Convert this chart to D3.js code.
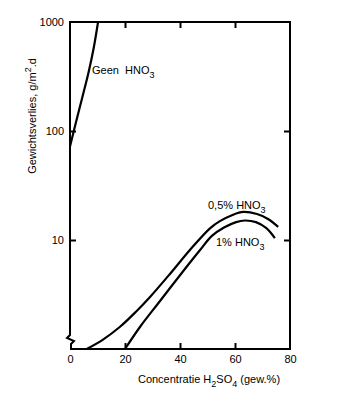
<!DOCTYPE html>
<html><head><meta charset="utf-8">
<script src="https://cdn.jsdelivr.net/npm/d3@7"></script>
<style>body{margin:0;background:#fff}svg{display:block}text{font-family:"Liberation Sans",Arial,sans-serif;fill:#000;white-space:pre}</style>
</head><body>
<script>
// Data (concentration H2SO4 in gew.%, weight loss g/m2.d)
const xTicks = [0, 20, 40, 60, 80];
const yTicks = [10, 100, 1000];
const geenConc = [0, 1.9, 4.4, 6.8, 8.6, 10.2];
const geenVal  = [72, 113, 200, 350, 574, 1000];
const halfConc = [6.1, 12, 18.2, 24, 29.1, 36.4, 43.6, 50.9, 54.5, 58.9, 63, 68, 72, 75.7];
const halfVal  = [1, 1.22, 1.6, 2.2, 3.0, 4.9, 8.1, 12.8, 14.9, 16.9, 18.1, 17.3, 15.6, 13.2];
const oneConc  = [20, 25.5, 32.1, 41.2, 47.3, 51.6, 56, 60.4, 63.6, 67.6, 71.3, 74.5];
const oneVal   = [1, 1.6, 2.63, 5.2, 8.1, 10.9, 13.0, 14.6, 15.1, 14.6, 12.9, 10.4];

const W = 350, H = 411;
const L = 70, R = 290, T = 22, B = 349;
const svg = d3.select("body").append("svg").attr("width", W).attr("height", H);

const x = d3.scaleLinear().domain([0, 80]).range([L, R]);
const y = d3.scaleLog().domain([1, 1000]).range([B, T]);

const zip = (a, b) => a.map((v, i) => [v, b[i]]);
const line = d3.line().x(d => x(d[0])).y(d => y(d[1])).curve(d3.curveCatmullRom.alpha(0.5));

// frame (top, right, bottom + left with break)
const frame = svg.append("g").attr("fill", "none").attr("stroke", "#000").attr("stroke-width", 2);
frame.append("path").attr("d", `M${L},${B} L${R},${B} L${R},${T} L${L},${T} L${L},${B - 14}
  L${L - 3},${B - 11} L${L + 4},${B - 8} L${L + 1},${B - 5} L${L + 1},${B}`).attr("stroke-linejoin", "miter");

// axes (inward ticks)
const ax = (g, axis) => { g.call(axis); g.select(".domain").remove();
  g.selectAll("line").attr("stroke", "#000").attr("stroke-width", 2); g.selectAll("text").attr("font-size", 11).attr("font-family", '"Liberation Sans",Arial,sans-serif'); };

svg.append("g").attr("transform", `translate(0,${B})`)
  .call(g => ax(g, d3.axisBottom(x).tickValues(xTicks).tickSizeInner(0).tickSizeOuter(0).tickPadding(6)))
  .call(g => g.selectAll(".tick line").remove());
svg.append("g").attr("transform", `translate(0,${B})`)
  .call(g => ax(g, d3.axisBottom(x).tickValues(xTicks.slice(1, 4)).tickSize(-6).tickFormat("")));
svg.append("g").attr("transform", `translate(0,${T})`)
  .call(g => ax(g, d3.axisTop(x).tickValues(xTicks.slice(1, 4)).tickSize(-6).tickFormat("")));
svg.append("g").attr("transform", `translate(${L},0)`)
  .call(g => ax(g, d3.axisLeft(y).tickValues(yTicks).tickSize(0).tickPadding(6).tickFormat(d3.format("d"))));
svg.append("g").attr("transform", `translate(${L},0)`)
  .call(g => ax(g, d3.axisLeft(y).tickValues(yTicks.slice(0, 2)).tickSize(-6).tickFormat("")));
svg.append("g").attr("transform", `translate(${R},0)`)
  .call(g => ax(g, d3.axisRight(y).tickValues(yTicks.slice(0, 2)).tickSize(-6).tickFormat("")));

// curves
const curves = svg.append("g").attr("fill", "none").attr("stroke", "#000").attr("stroke-width", 2.2);
curves.append("path").attr("d", line(zip(geenConc, geenVal)));
curves.append("path").attr("d", line(zip(halfConc, halfVal)));
curves.append("path").attr("d", line(zip(oneConc, oneVal)));

// labels
function lab(px, py, main, sub, after) {
  const t = svg.append("text").attr("x", px).attr("y", py).attr("font-size", 11);
  t.append("tspan").text(main);
  t.append("tspan").attr("dy", 4).attr("font-size", 9).text(sub);
  if (after) t.append("tspan").attr("dy", -4).text(after);
  return t;
}
lab(92, 74, "Geen  HNO", "3");
lab(208, 209, "0,5% HNO", "3");
lab(216, 246, "1% HNO", "3");

// x title
const xt = svg.append("text").attr("x", 209).attr("y", 383).attr("text-anchor", "middle").attr("font-size", 11);
xt.append("tspan").text("Concentratie H");
xt.append("tspan").attr("dy", 4).attr("font-size", 9).text("2");
xt.append("tspan").attr("dy", -4).text("SO");
xt.append("tspan").attr("dy", 4).attr("font-size", 9).text("4");
xt.append("tspan").attr("dy", -4).text(" (gew.%)");

// y title
const yt = svg.append("text").attr("transform", "translate(36,116) rotate(-90)").attr("text-anchor", "middle").attr("font-size", 11);
yt.append("tspan").text("Gewichtsverlies, g/m");
yt.append("tspan").attr("dy", -5).attr("font-size", 9).text("2");
yt.append("tspan").attr("dy", 5).text(".d");
</script>
</body></html>
